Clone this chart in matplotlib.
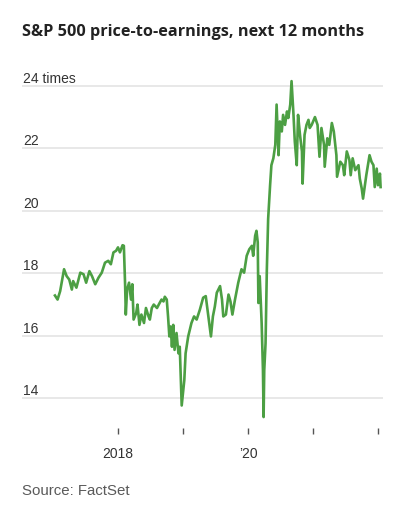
import matplotlib
matplotlib.use("Agg")
import matplotlib.pyplot as plt
import matplotlib.transforms as mtransforms

# ---- data (decimal years, forward P/E) ----
dates = [2017.03, 2017.07, 2017.11, 2017.17, 2017.21, 2017.25, 2017.29, 2017.31, 2017.36, 2017.42,
         2017.47, 2017.51, 2017.56, 2017.60, 2017.65, 2017.70, 2017.75, 2017.80, 2017.85, 2017.89,
         2017.93, 2017.97, 2018.00, 2018.03, 2018.07, 2018.09, 2018.11, 2018.12, 2018.14, 2018.17,
         2018.20, 2018.22, 2018.24, 2018.28, 2018.30, 2018.33, 2018.36, 2018.40, 2018.43, 2018.47,
         2018.49, 2018.52, 2018.55, 2018.60, 2018.64, 2018.67, 2018.70, 2018.72, 2018.75, 2018.77,
         2018.79, 2018.81, 2018.83, 2018.85, 2018.87, 2018.90, 2018.93, 2018.95, 2018.98, 2019.02,
         2019.04, 2019.08, 2019.13, 2019.17, 2019.21, 2019.26, 2019.31, 2019.35, 2019.39, 2019.43,
         2019.46, 2019.49, 2019.52, 2019.57, 2019.60, 2019.62, 2019.66, 2019.70, 2019.73, 2019.76,
         2019.80, 2019.85, 2019.90, 2019.94, 2019.98, 2020.02, 2020.06, 2020.08, 2020.11, 2020.13,
         2020.15, 2020.16, 2020.18, 2020.21, 2020.23, 2020.24, 2020.25, 2020.27, 2020.29, 2020.31,
         2020.34, 2020.36, 2020.39, 2020.42, 2020.44, 2020.47, 2020.49, 2020.52, 2020.54, 2020.57,
         2020.60, 2020.62, 2020.65, 2020.67, 2020.70, 2020.72, 2020.75, 2020.77, 2020.80, 2020.83,
         2020.84, 2020.87, 2020.90, 2020.93, 2020.95, 2020.98, 2021.03, 2021.07, 2021.10, 2021.13,
         2021.17, 2021.18, 2021.22, 2021.25, 2021.29, 2021.32, 2021.36, 2021.37, 2021.42, 2021.46,
         2021.48, 2021.52, 2021.56, 2021.58, 2021.61, 2021.65, 2021.70, 2021.72, 2021.75, 2021.77,
         2021.82, 2021.87, 2021.90, 2021.93, 2021.95, 2021.98, 2022.00, 2022.03, 2022.04]
pe = [17.29, 17.16, 17.43, 18.13, 17.91, 17.80, 17.48, 17.75, 17.54, 18.02,
      17.97, 17.70, 18.07, 17.91, 17.65, 17.86, 18.02, 18.34, 18.40, 18.29,
      18.67, 18.72, 18.83, 18.67, 18.90, 18.88, 17.59, 16.68, 17.48, 17.70,
      17.16, 17.65, 16.52, 16.73, 17.00, 16.35, 16.68, 16.41, 16.89, 16.62,
      16.52, 16.89, 17.00, 16.89, 17.05, 17.16, 17.10, 17.25, 17.16, 16.62,
      15.98, 16.30, 15.65, 16.35, 15.55, 16.09, 15.44, 15.65, 13.77, 14.58,
      15.44, 15.98, 16.41, 16.62, 16.52, 16.84, 17.22, 17.27, 16.62, 15.98,
      16.62, 16.94, 17.38, 17.59, 17.16, 16.62, 16.68, 17.32, 17.10, 16.68,
      17.16, 17.70, 18.13, 18.02, 18.56, 18.77, 18.88, 18.56, 19.20, 19.36,
      18.99, 17.05, 17.91, 16.41, 14.90, 13.40, 14.90, 15.76, 18.13, 19.74,
      20.82, 21.46, 21.68, 22.11, 23.40, 21.78, 22.86, 22.54, 23.07, 22.75,
      23.18, 22.97, 23.40, 24.15, 23.07, 22.22, 21.46, 23.07, 22.43, 21.90,
      20.87, 22.43, 22.75, 22.91, 22.65, 22.75, 23.00, 22.75, 21.73, 22.65,
      22.11, 21.41, 22.32, 22.11, 22.81, 22.54, 21.78, 21.09, 21.57, 21.46,
      21.14, 21.90, 21.63, 21.14, 21.68, 21.30, 21.46, 21.03, 20.71, 20.39,
      21.14, 21.78, 21.57, 21.46, 20.76, 21.35, 20.82, 21.19, 20.76]

y_ticks = [14, 16, 18, 20, 22, 24]
y_labels = ["14", "16", "18", "20", "22", "24 times"]
x_ticks = [2018, 2019, 2020, 2021, 2022]
x_labels = ["2018", "", "\u201920", "", ""]

title = "S&P 500 price-to-earnings, next 12 months"
source = "Source: FactSet"

# ---- figure ----
W, H = 399, 509
fig = plt.figure(figsize=(W / 100, H / 100), dpi=100)
fig.patch.set_facecolor("white")
FONT = "Liberation Sans"

left, right, top, bottom = 22, 383, 70, 428
ax = fig.add_axes([left / W, 1 - bottom / H, (right - left) / W, (bottom - top) / H])
ax.set_xlim(2016.523, 2022.077)
ax.set_ylim(13.05, 24.506)
for s in ax.spines.values():
    s.set_visible(False)

for v in y_ticks:
    ax.axhline(v, color="#e8e8e8", lw=1.4, zorder=1)

ax.plot(dates, pe, color="#4c9f43", lw=1.9, zorder=3, solid_joinstyle="round")

ax.set_yticks([])
ax.set_xticks(x_ticks)
ax.set_xticklabels(x_labels, fontfamily=FONT, fontsize=10, color="#333333")
ax.tick_params(axis="x", direction="out", length=4, width=1, color="#555555", pad=10)

offset = mtransforms.offset_copy(ax.get_yaxis_transform(), fig=fig, x=1, y=3, units="dots")
for v, lab in zip(y_ticks, y_labels):
    ax.text(0, v, lab, transform=offset, ha="left", va="baseline",
            fontfamily=FONT, fontsize=10, color="#333333", zorder=4)

fig.text(22 / W, 1 - 36.5 / H, title, ha="left", va="baseline",
         fontfamily="Open Sans", fontweight="bold", fontsize=11.7, color="#222222")
fig.text(22 / W, 1 - 495 / H, source, ha="left", va="baseline",
         fontfamily=FONT, fontsize=10.8, color="#5a5a5a")

fig.savefig("out.png", dpi=100, facecolor="white")
